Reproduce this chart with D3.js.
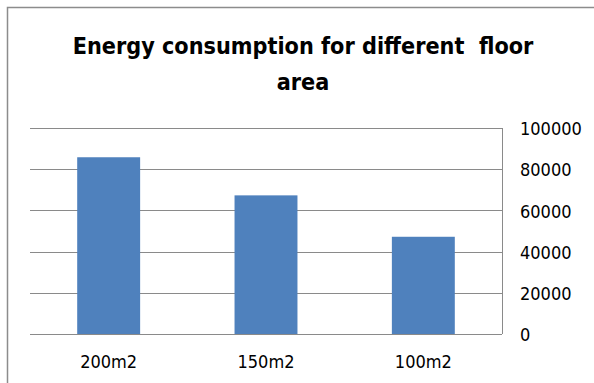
<!DOCTYPE html>
<html>
<head>
<meta charset="utf-8">
<script src="https://cdn.jsdelivr.net/npm/d3@7"></script>
<style>
  html, body { margin: 0; padding: 0; background: #fff; }
  svg { display: block; }
</style>
</head>
<body>
<svg id="chart" width="594" height="383"></svg>
<script>
// Floor-area categories and their energy consumption
const categories = ["200m2", "150m2", "100m2"];
const consumption = [85800, 67300, 47200];
const yTicks = [0, 20000, 40000, 60000, 80000, 100000];
const titleLines = ["Energy consumption for different  floor", "area"];

const W = 594, H = 383;
const plot = { left: 30, right: 502, top: 128, bottom: 334 };
const font = "'Liberation Sans Narrow', 'DejaVu Sans Condensed', sans-serif";

const svg = d3.select("#chart");

// chart frame (only top and left edges fall inside the view)
svg.append("rect")
  .attr("x", 7.5).attr("y", 7.5)
  .attr("width", W + 20).attr("height", H + 20)
  .attr("fill", "#fff").attr("stroke", "#8c8c8c").attr("stroke-width", 1.5);

const x = d3.scaleBand()
  .domain(categories)
  .range([plot.left, plot.right])
  .paddingInner(0.6)
  .paddingOuter(0.3);

const y = d3.scaleLinear()
  .domain([0, 100000])
  .range([plot.bottom, plot.top]);

// horizontal gridlines
svg.append("g")
  .selectAll("line")
  .data(yTicks)
  .join("line")
  .attr("x1", plot.left).attr("x2", plot.right)
  .attr("y1", d => Math.round(y(d)) + 0.5).attr("y2", d => Math.round(y(d)) + 0.5)
  .attr("stroke", "#8a8a8a").attr("stroke-width", 1);

// right-hand border of the plot area
svg.append("line")
  .attr("x1", plot.right + 0.5).attr("x2", plot.right + 0.5)
  .attr("y1", plot.top).attr("y2", plot.bottom)
  .attr("stroke", "#8a8a8a");

// bars
svg.append("g")
  .selectAll("rect")
  .data(categories)
  .join("rect")
  .attr("x", d => x(d))
  .attr("width", x.bandwidth())
  .attr("y", (d, i) => y(consumption[i]))
  .attr("height", (d, i) => y(0) - y(consumption[i]))
  .attr("fill", "#4f81bd");

// value axis on the right
const yAxis = svg.append("g")
  .attr("transform", `translate(${plot.right},0)`)
  .call(d3.axisRight(y).tickValues(yTicks).tickSize(0).tickPadding(18).tickFormat(d3.format("d")));
yAxis.select(".domain").remove();
yAxis.selectAll("text")
  .attr("font-family", font).attr("font-size", 18).attr("fill", "#000")
  .attr("dy", "0.37em");

// category axis
const xAxis = svg.append("g")
  .attr("transform", `translate(0,${plot.bottom})`)
  .call(d3.axisBottom(x).tickSize(0).tickPadding(21));
xAxis.select(".domain").remove();
xAxis.selectAll("text")
  .attr("font-family", font).attr("font-size", 18).attr("fill", "#000")
  .attr("dy", "0.71em");

// title
svg.append("g")
  .selectAll("text")
  .data(titleLines)
  .join("text")
  .attr("x", 303)
  .attr("y", (d, i) => 53.5 + i * 36.5)
  .attr("text-anchor", "middle")
  .attr("font-family", font)
  .attr("font-weight", "bold")
  .attr("font-size", 23.2)
  .attr("fill", "#000")
  .style("white-space", "pre")
  .text(d => d);
</script>
</body>
</html>
